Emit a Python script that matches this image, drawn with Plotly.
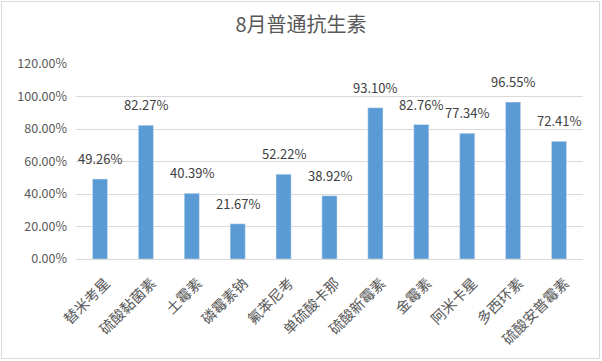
import plotly.graph_objects as go

categories = ["替米考星", "硫酸黏菌素", "土霉素", "磷霉素钠", "氟苯尼考", "单硫酸卡那",
              "硫酸新霉素", "金霉素", "阿米卡星", "多西环素", "硫酸安普霉素"]
values = [0.4926, 0.8227, 0.4039, 0.2167, 0.5222, 0.3892, 0.9310, 0.8276, 0.7734, 0.9655, 0.7241]
tick_vals = [0, 0.2, 0.4, 0.6, 0.8, 1.0, 1.2]
title = "8月普通抗生素"

W, H = 602, 361
L, R, T, B = 76, 19, 64, 102
pw, ph = W - L - R, H - T - B

def px_x(px):
    return (px - L) / pw

def px_y(py):
    return (H - B - py) / ph

font = "Noto Sans CJK SC, Microsoft YaHei, sans-serif"

fig = go.Figure(go.Bar(
    x=categories, y=values,
    marker_color="#5B9BD5",
    cliponaxis=False,
))

for c, v in zip(categories, values):
    fig.add_annotation(x=c, y=v, text=f"{v*100:.2f}%", showarrow=False,
                       yanchor="bottom", yshift=9,
                       font=dict(size=13, color="#404040", family=font))

fig.update_layout(
    width=W, height=H,
    margin=dict(l=L, r=R, t=T, b=B, autoexpand=False),
    paper_bgcolor="white", plot_bgcolor="white",
    bargap=0.67,
    title=dict(text=title, x=0.5, xanchor="center", y=1 - 25 / H, yanchor="middle",
               font=dict(size=20, color="#595959", family=font)),
    font=dict(family=font, color="#595959"),
    showlegend=False,
    xaxis=dict(tickangle=-45, tickfont=dict(size=14.5, color="#595959"), automargin=False,
               ticklabelstandoff=9, ticklabelshift=6,
               showline=True, linecolor="#D9D9D9", ticks="", showgrid=False),
    yaxis=dict(range=[0, 1.2], tickvals=tick_vals, tickformat=".2%", automargin=False,
               tickfont=dict(size=12.5, color="#595959"), ticklabelstandoff=8,
               showgrid=True, gridcolor="#D9D9D9", zeroline=False, ticks="",
               showline=False),
    shapes=[dict(type="rect", xref="paper", yref="paper",
                 x0=px_x(1.5), x1=px_x(599.5), y0=px_y(358.5), y1=px_y(1.5),
                 line=dict(color="#D9D9D9", width=1), layer="below")],
)

fig.write_html("out.html", config={"displayModeBar": False},
               post_script="document.body.style.margin='0';")
